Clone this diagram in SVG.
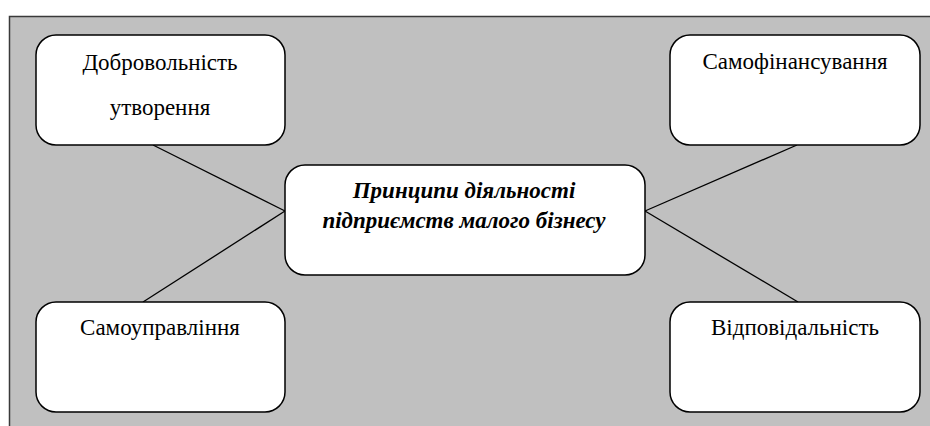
<svg xmlns="http://www.w3.org/2000/svg" width="930" height="426" viewBox="0 0 930 426">
<style>
.box{fill:#ffffff;stroke:#000000;stroke-width:1.5}
.t{font-family:"Liberation Serif","Times New Roman","DejaVu Serif",serif;font-size:23px;fill:#000000;text-anchor:middle}
.tb{font-family:"Liberation Serif","Times New Roman","DejaVu Serif",serif;font-size:23px;font-weight:bold;font-style:italic;fill:#000000;text-anchor:middle}
.ln{stroke:#000000;stroke-width:1.3;fill:none}
</style>
<rect x="0" y="0" width="930" height="426" fill="#ffffff"/>
<rect x="9" y="16" width="921" height="410" fill="#c0c0c0"/>
<path d="M9.5 426 V16.5 H930" fill="none" stroke="#3a3a3a" stroke-width="1.5"/>
<g id="connectors">
<line class="ln" x1="153" y1="145" x2="285" y2="211"/>
<line class="ln" x1="143" y1="302" x2="285" y2="211"/>
<line class="ln" x1="797" y1="145" x2="645" y2="211"/>
<line class="ln" x1="798" y1="302" x2="645" y2="211"/>
</g>
<g id="node-center">
<rect class="box" x="285" y="165" width="360" height="110" rx="20" ry="20"/>
<text class="tb" x="464" y="198">Принципи діяльності</text>
<text class="tb" x="464" y="228">підприємств малого бізнесу</text>
</g>
<g id="node-dobrovilnist">
<rect class="box" x="36" y="35" width="249" height="110" rx="20" ry="20"/>
<text class="t" x="160" y="70">Добровольність</text>
<text class="t" x="160" y="115">утворення</text>
</g>
<g id="node-samofinansuvannia">
<rect class="box" x="670" y="35" width="250" height="110" rx="20" ry="20"/>
<text class="t" x="795" y="69">Самофінансування</text>
</g>
<g id="node-samoupravlinnia">
<rect class="box" x="36" y="302" width="249" height="110" rx="20" ry="20"/>
<text class="t" x="160" y="335">Самоуправління</text>
</g>
<g id="node-vidpovidalnist">
<rect class="box" x="670" y="302" width="250" height="110" rx="20" ry="20"/>
<text class="t" x="795" y="335">Відповідальність</text>
</g>
</svg>
